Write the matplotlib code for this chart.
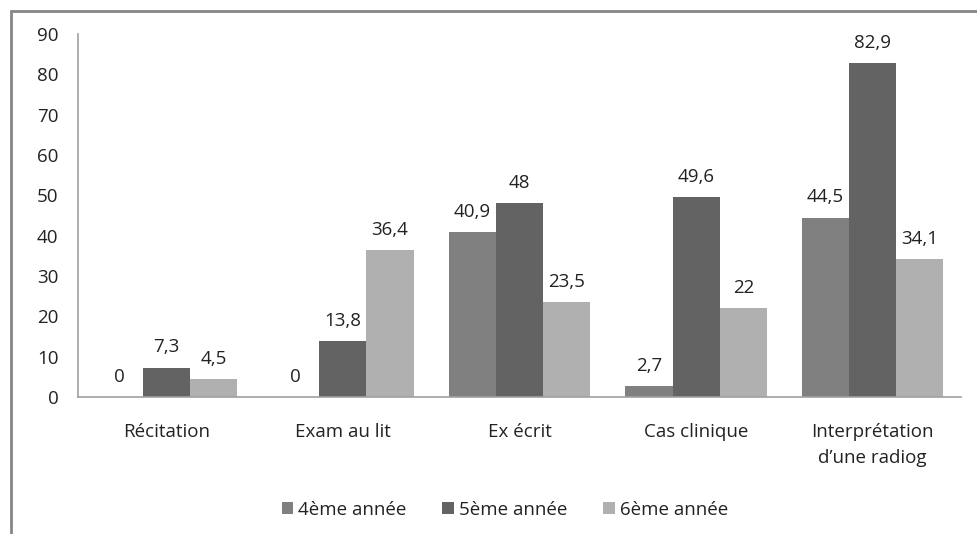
import matplotlib
matplotlib.use("Agg")
import matplotlib.pyplot as plt
import numpy as np

categories = ["Récitation", "Exam au lit", "Ex écrit", "Cas clinique", "Interprétation\nd\u2019une radiog"]
series_names = ["4ème année", "5ème année", "6ème année"]
year4 = [0, 0, 40.9, 2.7, 44.5]
year5 = [7.3, 13.8, 48, 49.6, 82.9]
year6 = [4.5, 36.4, 23.5, 22, 34.1]
colors = ["#808080", "#636363", "#b0b0b0"]

plt.rcParams['font.family'] = ['Open Sans', 'DejaVu Sans']
fs = 13.5

fig = plt.figure(figsize=(9.78, 5.34), dpi=100)
ax = fig.add_axes([78 / 978, 1 - 397 / 534, (961 - 78) / 978, (397 - 34) / 534])

# outer chart border (only top/left visible in the reference)
fig.patches.append(plt.Rectangle((11 / 978, -0.1), 1.2, 1 - 11 / 534 + 0.1,
                                 transform=fig.transFigure, fill=False,
                                 edgecolor="#868686", linewidth=2))

x = np.arange(len(categories))
width = 0.267
for i, (vals, name) in enumerate(zip([year4, year5, year6], series_names)):
    pos = x + (i - 1) * width
    ax.bar(pos, vals, width, color=colors[i], label=name)
    for p, v in zip(pos, vals):
        ax.annotate(f"{v:g}".replace(".", ","), (p, v), xytext=(0, 8),
                    textcoords="offset points", ha="center", va="bottom",
                    fontsize=fs, color="#222222")

ax.set_xlim(-0.5, len(categories) - 0.5)
ax.set_ylim(0, 90)
ax.set_yticks(range(0, 91, 10))
ax.set_xticks(x)
ax.set_xticklabels(categories, linespacing=1.55)
ax.tick_params(axis="both", length=0, labelsize=fs, colors="#222222")
ax.tick_params(axis="y", pad=14)
ax.tick_params(axis="x", pad=19)
for s in ["top", "right"]:
    ax.spines[s].set_visible(False)
for s in ["left", "bottom"]:
    ax.spines[s].set_color("#a0a0a0")
    ax.spines[s].set_linewidth(1.2)

fig.legend(loc="center", bbox_to_anchor=(505 / 978, 1 - 510 / 534), ncol=3,
           frameon=False, fontsize=fs, handlelength=0.6, handleheight=0.6,
           handletextpad=0.3, columnspacing=1.9, labelcolor="#222222")

fig.savefig("out.png", dpi=100)
